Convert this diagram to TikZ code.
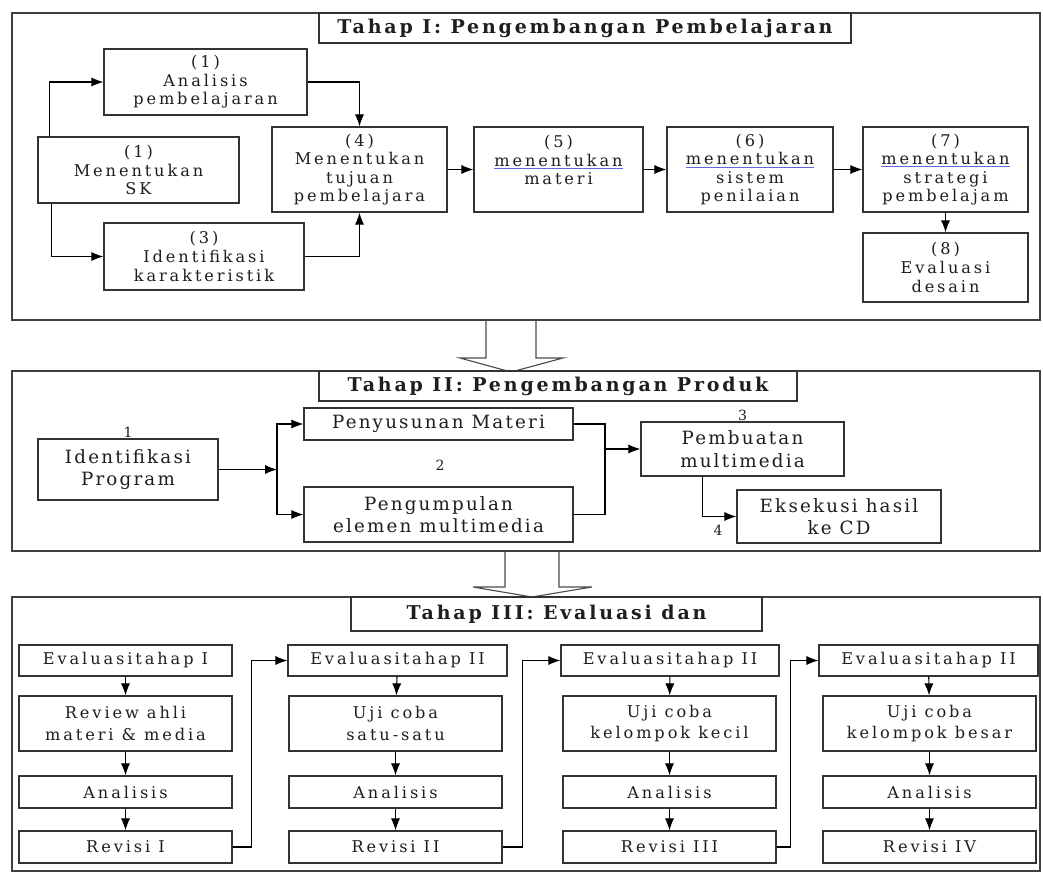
\documentclass[tikz,border=0pt]{standalone}
\usepackage{fontspec}
\setmainfont{DejaVu Serif}[LetterSpace=18]
\usetikzlibrary{arrows.meta}

\definecolor{inkgray}{RGB}{30,30,30}
\definecolor{spellblue}{RGB}{100,100,225}
\newcommand{\ejaan}[1]{{\color{spellblue}\underline{\color{inkgray}#1}}}

\tikzset{
    kotak/.style={draw=black!80, fill=white, line width=0.9pt, inner sep=0pt, align=center, text=inkgray},
    wh/.style 2 args={minimum width=#1*0.025cm, minimum height=#2*0.025cm},
    judul/.style={kotak, font=\fontsize{13.5}{16}\selectfont\bfseries\addfontfeature{LetterSpace=15}},
    atas/.style={kotak, font=\fontsize{11.5}{13.2}\selectfont},
    tengah/.style={kotak, font=\fontsize{13}{16}\selectfont\addfontfeature{LetterSpace=12}},
    bawah/.style={kotak, font=\fontsize{11.5}{15}\selectfont},
    nomor/.style={inner sep=0.5pt, text=inkgray, font=\fontsize{10}{12}\selectfont},
    panah/.style={line width=0.8pt, -{Latex[length=3mm, width=2.3mm]}},
    garis/.style={line width=0.8pt},
    bingkai/.style={draw=black!75, line width=1.1pt},
    hollow/.style={draw=black!70, fill=white, line width=0.8pt}
}

\begin{document}
\begin{tikzpicture}[x=0.025cm, y=-0.025cm]
  \useasboundingbox (0,0) rectangle (1043,874);

  % big arrows between the stages
  \draw[hollow] (486,320) -- (486,358) -- (460,358) -- (511,372) -- (563,358) -- (536,358) -- (536,320);
  \draw[hollow] (505,551) -- (505,587) -- (473,587) -- (532,597) -- (592,587) -- (559,587) -- (559,551);

  % frames
  \draw[bingkai] (12,13) rectangle (1040,320);
  \draw[bingkai] (12,371) rectangle (1040,551);
  \draw[bingkai] (12,597) rectangle (1040,871);

  % stage I
  \node[judul, wh={532}{30}] (judul1) at (585,28) {Tahap I: Pengembangan Pembelajaran};
  \node[atas, wh={203}{66}] (anl) at (205.5,82) {(1)\\Analisis\\pembelajaran};
  \node[atas, wh={201}{66}] (sk) at (138.5,170) {(1)\\Menentukan\\SK};
  \node[atas, wh={200}{67}] (idk) at (204,256.5) {(3)\\Identifikasi\\karakteristik};
  \node[atas, wh={175}{85}] (tjn) at (359.5,169.5) {(4)\\Menentukan\\tujuan\\pembelajara};
  \node[atas, wh={169}{85}] (mtr) at (558.5,169.5) {(5)\\\ejaan{menentukan}\\materi\\\mbox{}};
  \node[atas, wh={166}{85}] (pnl) at (750,169.5) {(6)\\\ejaan{menentukan}\\sistem\\penilaian};
  \node[atas, wh={165}{85}] (str) at (945.5,169.5) {(7)\\\ejaan{menentukan}\\strategi\\pembelajam};
  \node[atas, wh={165}{69}] (evd) at (945.5,267.5) {(8)\\Evaluasi\\desain};
  \draw[panah] ([xshift=0.3cm]sk.north west) |- (anl.west);
  \draw[panah] ([xshift=0.35cm]sk.south west) |- (idk.west);
  \draw[panah] (anl.east) -| (tjn.north);
  \draw[panah] (idk.east) -| (tjn.south);
  \draw[panah] (tjn) -- (mtr);
  \draw[panah] (mtr) -- (pnl);
  \draw[panah] (pnl) -- (str);
  \draw[panah] (str) -- (evd);

  % stage II
  \node[judul, wh={478}{30}] (judul2) at (558,386) {Tahap II: Pengembangan Produk};
  \node[tengah, wh={180}{61}] (idp) at (128,469.5) {Identifikasi\\Program};
  \node[tengah, wh={269}{32}] (psm) at (438.5,424) {Penyusunan Materi};
  \node[tengah, wh={269}{55}] (pgm) at (438.5,514.5) {Pengumpulan\\elemen multimedia};
  \node[tengah, wh={203}{54}] (pbm) at (742.5,449) {Pembuatan\\multimedia};
  \node[tengah, wh={204}{53}] (eks) at (839,516.5) {Eksekusi hasil\\ke CD};
  \node[nomor, anchor=south] (n1) at (idp.north) {1};
  \node[nomor] (n2) at (440,465) {2};
  \node[nomor, anchor=south] (n3) at (pbm.north) {3};
  \node[nomor] (n4) at (718,530) {4};
  \coordinate (cab1) at (277,469.5);
  \coordinate (cab2) at (605,449);
  \draw[panah] (idp.east) -- (cab1);
  \draw[panah] (cab1) |- (psm.west);
  \draw[panah] (cab1) |- (pgm.west);
  \draw[garis] (psm.east) -| (cab2) (pgm.east) -| (cab2);
  \draw[panah] (cab2) -- (pbm.west);
  \draw[panah] ([xshift=-1cm]pbm.south) |- (eks.west);

  % stage III
  \node[judul, wh={411}{34}] (judul3) at (556.5,614) {Tahap III: Evaluasi dan};
  \node[bawah, wh={213}{31}] (eva1) at (125.5,660.5) {Evaluasitahap I};
  \node[bawah, wh={213}{55}] (uji1) at (125.5,723.5) {Review ahli\\materi \& media};
  \node[bawah, wh={213}{32}] (ana1) at (125.5,792) {Analisis};
  \node[bawah, wh={213}{32}] (rev1) at (125.5,847) {Revisi I};
  \node[bawah, wh={219}{31}] (eva2) at (397.5,660.5) {Evaluasitahap II};
  \node[bawah, wh={213}{55}] (uji2) at (395.5,723.5) {Uji coba\\satu-satu};
  \node[bawah, wh={213}{32}] (ana2) at (395.5,792) {Analisis};
  \node[bawah, wh={213}{32}] (rev2) at (395.5,847) {Revisi II};
  \node[bawah, wh={218}{31}] (eva3) at (670,660.5) {Evaluasitahap II};
  \node[bawah, wh={213}{55}] (uji3) at (669.5,723.5) {Uji coba\\kelompok kecil};
  \node[bawah, wh={213}{32}] (ana3) at (669.5,792) {Analisis};
  \node[bawah, wh={213}{32}] (rev3) at (669.5,847) {Revisi III};
  \node[bawah, wh={219}{31}] (eva4) at (928.5,660.5) {Evaluasitahap II};
  \node[bawah, wh={213}{55}] (uji4) at (929.5,723.5) {Uji coba\\kelompok besar};
  \node[bawah, wh={213}{32}] (ana4) at (929.5,792) {Analisis};
  \node[bawah, wh={213}{32}] (rev4) at (929.5,847) {Revisi IV};
  \draw[panah] (eva1) -- (uji1);
  \draw[panah] (uji1) -- (ana1);
  \draw[panah] (ana1) -- (rev1);
  \draw[panah] (eva2) -- (uji2);
  \draw[panah] (uji2) -- (ana2);
  \draw[panah] (ana2) -- (rev2);
  \draw[panah] (eva3) -- (uji3);
  \draw[panah] (uji3) -- (ana3);
  \draw[panah] (ana3) -- (rev3);
  \draw[panah] (eva4) -- (uji4);
  \draw[panah] (uji4) -- (ana4);
  \draw[panah] (ana4) -- (rev4);
  \draw[panah] (rev1.east) -- ++(19,0) |- (eva2.west);
  \draw[panah] (rev2.east) -- ++(20,0) |- (eva3.west);
  \draw[panah] (rev3.east) -- ++(14,0) |- (eva4.west);
\end{tikzpicture}
\end{document}
